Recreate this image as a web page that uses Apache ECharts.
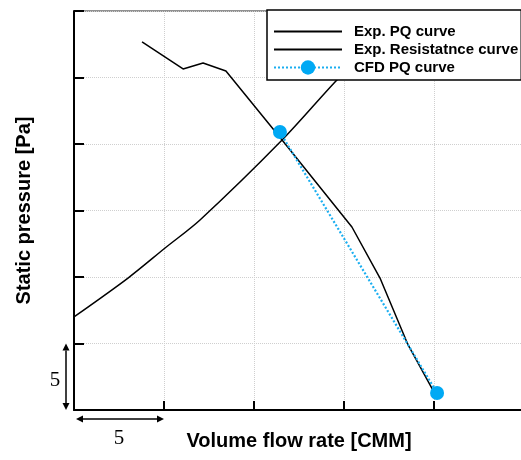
<!DOCTYPE html>
<html>
<head>
<meta charset="utf-8">
<script src="https://cdn.jsdelivr.net/npm/echarts@6/dist/echarts.min.js"></script>
<style>html,body{margin:0;padding:0;background:#fff}#c{width:521px;height:460px}</style>
</head>
<body>
<div id="c"></div>
<script>
// Data (x: volume flow rate, y: static pressure; axis units)
var seriesNames = ['Exp. PQ curve', 'Exp. Resistatnce curve', 'CFD PQ curve'];
var pqX = [3.78, 6.06, 7.17, 8.44, 11.56, 15.44, 17.0, 18.56, 19.94];
var pqY = [27.67, 25.64, 26.09, 25.49, 20.3, 13.76, 9.92, 4.89, 1.5];
var resX = [0.0, 3.0, 5.06, 7.0, 11.56, 14.5, 16.2];
var resY = [7.0, 9.92, 12.18, 14.29, 20.3, 24.66, 27.0];
var cfdX = [11.44, 20.17];
var cfdY = [20.9, 1.28];
var xTicks = [0, 5, 10, 15, 20, 25];
var yTicks = [0, 5, 10, 15, 20, 25, 30];
var scaleBarLabel = '5';

function zip(a, b) { return a.map(function (v, i) { return [v, b[i]]; }); }

var chart = echarts.init(document.getElementById('c'));
var sansFont = '"Liberation Sans", Arial, sans-serif';
var noSymbol = { color: 'rgba(0,0,0,0)', borderWidth: 0, opacity: 0 };
var option = {
  animation: false,
  backgroundColor: '#fff',
  grid: { left: 74, top: 11, width: 450, bottom: 50, outerBoundsMode: 'none', containLabel: false,
          show: true, borderColor: '#222', borderWidth: 1, backgroundColor: 'transparent' },
  xAxis: {
    type: 'value', min: xTicks[0], max: xTicks[xTicks.length - 1], interval: 5,
    name: 'Volume flow rate [CMM]', nameLocation: 'middle', nameGap: 21,
    nameTextStyle: { fontFamily: sansFont, fontWeight: 'bold', fontSize: 20, color: '#000' },
    axisLine: { show: true, lineStyle: { color: '#000', width: 2 } },
    axisTick: { show: true, inside: true, length: 9, lineStyle: { color: '#000', width: 2 } },
    axisLabel: { show: false },
    splitLine: { show: true, lineStyle: { color: '#cfcfcf', type: 'dotted', width: 1 } }
  },
  yAxis: {
    type: 'value', min: yTicks[0], max: yTicks[yTicks.length - 1], interval: 5,
    name: 'Static pressure [Pa]', nameLocation: 'middle', nameGap: 40,
    nameTextStyle: { fontFamily: sansFont, fontWeight: 'bold', fontSize: 20, color: '#000' },
    axisLine: { show: true, lineStyle: { color: '#000', width: 2 } },
    axisTick: { show: true, inside: true, length: 10, lineStyle: { color: '#000', width: 2 } },
    axisLabel: { show: false },
    splitLine: { show: true, lineStyle: { color: '#cfcfcf', type: 'dotted', width: 1 } }
  },
  legend: {
    orient: 'vertical', left: 267, top: 10,
    padding: [14, 3, 5, 6], itemWidth: 68, itemHeight: 18, itemGap: 3,
    backgroundColor: '#fff', borderColor: '#000', borderWidth: 1.5, borderRadius: 0,
    textStyle: { fontFamily: sansFont, fontWeight: 'bold', fontSize: 15, color: '#000', padding: [0, 0, 0, 7] },
    data: [
      { name: seriesNames[0], itemStyle: noSymbol },
      { name: seriesNames[1], itemStyle: noSymbol },
      { name: seriesNames[2] }
    ]
  },
  series: [
    { name: seriesNames[0], type: 'line', data: zip(pqX, pqY), symbol: 'none', color: '#000', lineStyle: { color: '#000', width: 1.5 } },
    { name: seriesNames[1], type: 'line', data: zip(resX, resY), symbol: 'none', smooth: 0.3, color: '#000', lineStyle: { color: '#000', width: 1.5 } },
    { name: seriesNames[2], type: 'line', data: zip(cfdX, cfdY), symbol: 'circle', symbolSize: 14, color: '#00A9F4',
      itemStyle: { color: '#00A9F4' }, lineStyle: { color: '#1AAEF0', width: 2.2, type: [2, 2] }, z: 3 }
  ]
};
chart.setOption(option);

// Scale bars drawn from axis positions
var p0 = chart.convertToPixel({ gridIndex: 0 }, [xTicks[0], yTicks[0]]);
var pY = chart.convertToPixel({ gridIndex: 0 }, [xTicks[0], yTicks[1]]);
var pX = chart.convertToPixel({ gridIndex: 0 }, [xTicks[1], yTicks[0]]);
var vx = p0[0] - 8, hy = p0[1] + 9;
var ah = 7, aw = 3.5;
var serifFont = '"Liberation Serif", "Times New Roman", serif';
chart.setOption({
  graphic: [
    { type: 'line', shape: { x1: vx, y1: pY[1] + ah, x2: vx, y2: p0[1] - ah }, style: { stroke: '#000', lineWidth: 1.5 } },
    { type: 'polygon', shape: { points: [[vx, pY[1]], [vx - aw, pY[1] + ah], [vx + aw, pY[1] + ah]] }, style: { fill: '#000' } },
    { type: 'polygon', shape: { points: [[vx, p0[1]], [vx - aw, p0[1] - ah], [vx + aw, p0[1] - ah]] }, style: { fill: '#000' } },
    { type: 'line', shape: { x1: p0[0] + 2 + ah, y1: hy, x2: pX[0] - ah, y2: hy }, style: { stroke: '#000', lineWidth: 1.5 } },
    { type: 'polygon', shape: { points: [[p0[0] + 2, hy], [p0[0] + 2 + ah, hy - aw], [p0[0] + 2 + ah, hy + aw]] }, style: { fill: '#000' } },
    { type: 'polygon', shape: { points: [[pX[0], hy], [pX[0] - ah, hy - aw], [pX[0] - ah, hy + aw]] }, style: { fill: '#000' } },
    { type: 'text', x: vx - 11, y: (p0[1] + pY[1]) / 2 + 4, style: { text: scaleBarLabel, font: '21px ' + serifFont, fill: '#000', align: 'center', verticalAlign: 'middle' } },
    { type: 'text', x: (p0[0] + pX[0]) / 2, y: hy + 19, style: { text: scaleBarLabel, font: '21px ' + serifFont, fill: '#000', align: 'center', verticalAlign: 'middle' } }
  ]
});
</script>
</body>
</html>
